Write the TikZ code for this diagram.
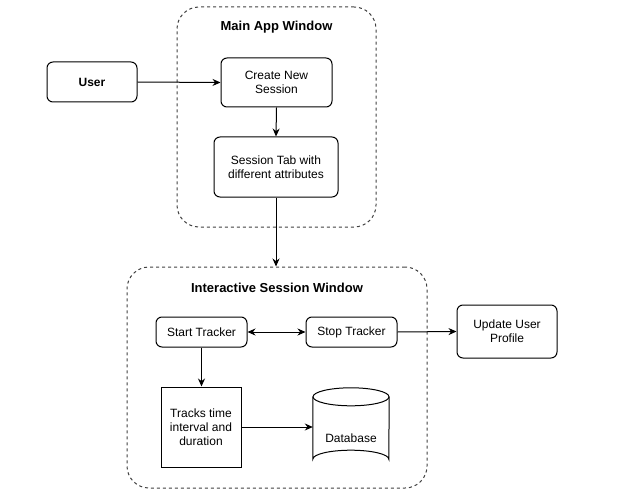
\documentclass[tikz,border=0pt]{standalone}
\usepackage{fontspec}
\setmainfont{Liberation Sans}
\usetikzlibrary{arrows.meta,calc}
\begin{document}
\begin{tikzpicture}[x=1pt,y=-1pt,
  every node/.style={font=\fontsize{12}{14}\selectfont, align=center, inner sep=0pt},
  rbox/.style={draw, line width=1pt, rounded corners=6pt},
  sbox/.style={draw, line width=1pt},
  cont/.style={draw=black!75, line width=1pt, dash pattern=on 3pt off 3pt, rounded corners=22pt},
  conn/.style={line width=1pt, -{Stealth[length=8pt,width=7pt]}},
  title/.style={font=\bfseries\fontsize{13}{15}\selectfont}]
\useasboundingbox (0,0) rectangle (623,489);
% containers
\node[cont, minimum width=199, minimum height=220] (mainwin) at (276.5,117) {};
\node[title] (maintitle) at (276.5,27) {Main App Window};
\node[cont, minimum width=300, minimum height=221] (sesswin) at (277,377.5) {};
\node[title] (sesstitle) at (277,288) {Interactive Session Window};
% nodes
\node[rbox, minimum width=90, minimum height=40] (user) at (92,82) {\bfseries User};
\node[rbox, minimum width=111, minimum height=49] (create) at (276.5,82.5) {Create New\\Session};
\node[rbox, minimum width=124, minimum height=60] (tab) at (276,167) {Session Tab with\\different attributes};
\node[rbox, minimum width=91, minimum height=30] (start) at (201.5,332) {Start Tracker};
\node[rbox, minimum width=91, minimum height=30] (stop) at (351.5,332) {Stop Tracker};
\node[rbox, minimum width=100, minimum height=53] (update) at (507,331.5) {Update User\\Profile};
\node[sbox, minimum width=80, minimum height=80] (tracks) at (201,427) {Tracks time\\interval and\\duration};
\node[minimum width=76, minimum height=80] (db) at (351,428) {};
\draw[line width=1pt] ($(db.north west)+(0,9)$) -- ($(db.south west)+(0,-9)$)
  arc[start angle=180, end angle=360, x radius=38, y radius=9] -- ($(db.north east)+(0,9)$);
\draw[line width=1pt] ($(db.north)+(0,9)$) ellipse[x radius=38, y radius=9];
\node (dblabel) at (351,438) {Database};
% connectors
\draw[conn] (user.east) -- (create.west);
\draw[conn] (create.south) -- (tab.north);
\draw[conn] (tab.south) -- (tab.south |- sesswin.north);
\draw[line width=1pt, {Stealth[length=8pt,width=7pt]}-{Stealth[length=8pt,width=7pt]}] (start.east) -- (stop.west);
\draw[conn] (stop.east) -- (update.west);
\draw[conn] (start.south) -- (start.south |- tracks.north);
\draw[conn] (tracks.east) -- (tracks.east -| db.west);
\end{tikzpicture}
\end{document}
